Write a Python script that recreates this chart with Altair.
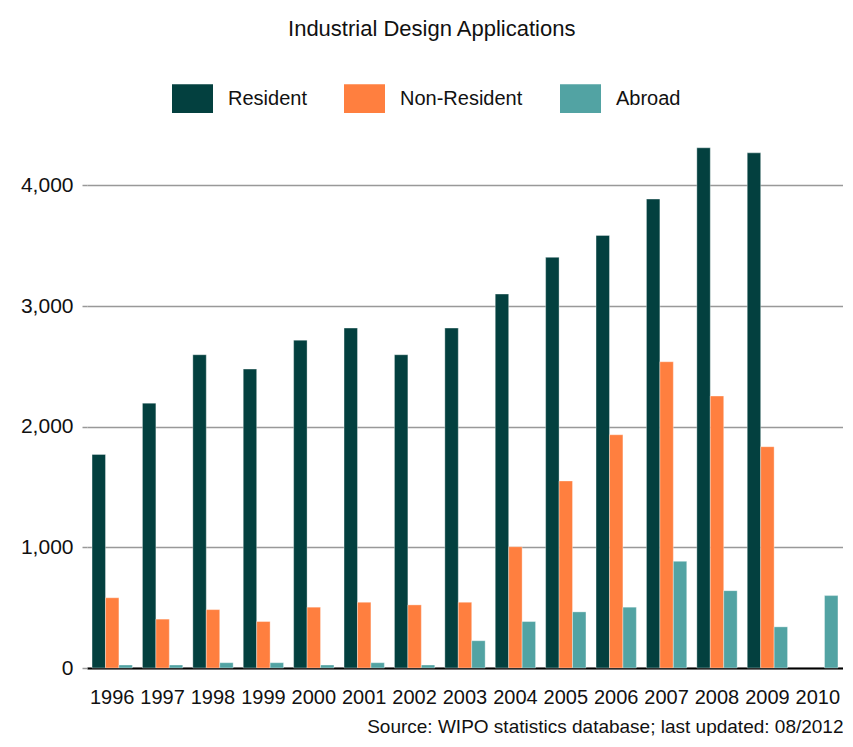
import altair as alt
import pandas as pd

years = [str(y) for y in range(1996, 2011)]
resident = [1770, 2195, 2596, 2477, 2717, 2817, 2596, 2817, 3099, 3403, 3585, 3886, 4311, 4269, None]
non_resident = [582, 405, 484, 385, 504, 545, 523, 545, 1005, 1550, 1933, 2538, 2254, 1834, None]
abroad = [25, 25, 44, 44, 25, 44, 25, 226, 385, 465, 504, 884, 641, 341, 600]
series = ["Resident", "Non-Resident", "Abroad"]
colors = ["#03403F", "#FF7F3F", "#52A3A3"]
y_ticks = [0, 1000, 2000, 3000, 4000]
title_text = "Industrial Design Applications"
source_text = "Source: WIPO statistics database; last updated: 08/2012"

rows = []
for name, vals in zip(series, [resident, non_resident, abroad]):
    for yr, v in zip(years, vals):
        if v is not None:
            rows.append({"year": yr, "series": name, "value": v})
df = pd.DataFrame(rows)

FONT = "Liberation Sans"
TXT = "#111111"

chart = alt.Chart(df).mark_bar(stroke="white", strokeOpacity=0.35, strokeWidth=1).encode(
    x=alt.X(
        "year:N",
        sort=years,
        scale=alt.Scale(paddingInner=0.2, paddingOuter=0.1),
        axis=alt.Axis(
            title=source_text,
            labelAngle=0,
            labelFontSize=20,
            labelFont=FONT,
            labelColor=TXT,
            labelPadding=19,
            ticks=False,
            domainColor="#000000",
            domainWidth=2,
            titleAnchor="end",
            titleAlign="right",
            titleFont=FONT,
            titleFontSize=19,
            titleFontWeight="normal",
            titleColor=TXT,
            titlePadding=10,
        ),
    ),
    xOffset=alt.XOffset(
        "series:N",
        sort=series,
        scale=alt.Scale(domain=series, paddingInner=0, paddingOuter=0),
    ),
    y=alt.Y(
        "value:Q",
        scale=alt.Scale(domain=[0, 4500], nice=False),
        axis=alt.Axis(
            title=None,
            values=y_ticks,
            format=",.0f",
            domain=False,
            tickColor="#999999",
            tickSize=5,
            tickWidth=1.5,
            grid=True,
            gridColor="#999999",
            gridWidth=1.5,
            labelPadding=9,
            labelFontSize=21,
            labelFont=FONT,
            labelColor=TXT,
        ),
    ),
    color=alt.Color(
        "series:N",
        sort=series,
        scale=alt.Scale(domain=series, range=colors),
        legend=alt.Legend(
            title=None,
            orient="none",
            direction="horizontal",
            legendX=85,
            legendY=-47,
            symbolType="M-1,-0.7L1,-0.7L1,0.7L-1,0.7Z",
            symbolSize=1681,
            symbolStrokeWidth=0,
            symbolOpacity=1,
            labelFontSize=20,
            labelFont=FONT,
            labelColor=TXT,
            labelOffset=15,
            columnPadding=37,
        ),
    ),
).properties(
    width=756,
    height=543,
    title=alt.TitleParams(
        title_text,
        fontSize=22,
        font=FONT,
        fontWeight="normal",
        color=TXT,
        anchor="middle",
        frame="bounds",
        offset=37,
    ),
    padding={"left": 12, "top": 10, "right": 0, "bottom": 0},
).configure_view(stroke=None)

chart.save("out.html", embed_options={"renderer": "svg", "actions": False})
